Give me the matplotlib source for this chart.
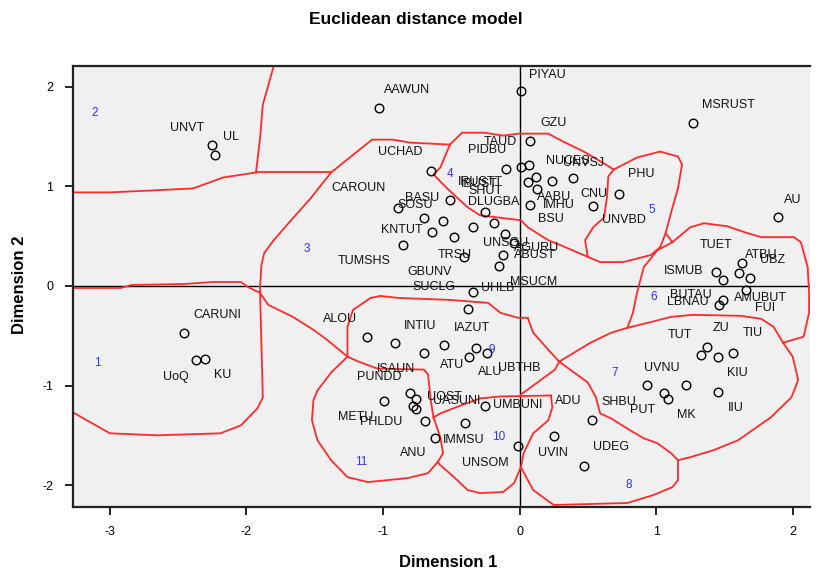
import matplotlib
matplotlib.use("Agg")
import matplotlib.pyplot as plt

plt.rcParams['font.family'] = ['Liberation Sans', 'DejaVu Sans']
plt.rcParams['axes.unicode_minus'] = False

# ---------------- data ----------------
names = ["UNVT", "UL", "AAWUN", "PIYAU", "MSRUST", "AU", "CARUNI", "UoQ", "KU",
         "GZU", "UCHAD", "PIDBU", "TAUD", "NUCES", "UNVSJ", "AABU", "IMHU", "BSU", "CNU",
         "SHUT", "UNVBD", "PHU", "IRUSTT", "CAROUN", "IBUST", "SOSU", "BASU", "DLUGBA",
         "UNSGU", "KNTUT", "TRSU", "AGURU", "TUMSHS", "ABUST", "GBUNV", "MSUCM", "SUCLG", "UHLB",
         "ISMUB", "TUET", "ATBU", "UBZ", "AMUBUT", "FUI", "BUTAU", "LBNAU",
         "ZU", "TUT", "KIU", "TIU", "UVNU", "SHBU", "PUT", "MK", "IIU",
         "ADU", "UVIN", "UDEG", "UNSOM",
         "ALOU", "INTIU", "", "IAZUT", "UBTHB", "ATU", "ALU", "",
         "METU", "PUNDD", "ISAUN", "UOST", "UASUNI", "PHLDU", "ANU", "IMMSU", "UMBUNI"]

dim1 = [-2.25, -2.23, -1.03, 0.01, 1.27, 1.89, -2.46, -2.37, -2.30,
        0.08, -0.65, -0.10, 0.01, 0.07, 0.06, 0.12, 0.13, 0.24, 0.39,
        0.08, 0.54, 0.73, -0.51, -0.89, -0.25, -0.70, -0.56, -0.19,
        -0.34, -0.64, -0.48, -0.11, -0.85, -0.04, -0.41, -0.12, -0.15, -0.34,
        1.44, 1.63, 1.61, 1.69, 1.66, 1.49, 1.49, 1.46,
        1.37, 1.33, 1.45, 1.56, 0.93, 1.06, 1.09, 1.22, 1.45,
        0.53, 0.25, 0.47, -0.01,
        -1.12, -0.91, -0.70, -0.55, -0.32, -0.37, -0.24, -0.38,
        -0.99, -0.80, -0.76, -0.78, -0.76, -0.69, -0.62, -0.40, -0.25]

dim2 = [1.42, 1.32, 1.79, 1.96, 1.64, 0.69, -0.47, -0.74, -0.73,
        1.46, 1.15, 1.17, 1.19, 1.22, 1.04, 1.09, 0.97, 1.05, 1.08,
        0.81, 0.80, 0.92, 0.86, 0.78, 0.74, 0.68, 0.65, 0.63,
        0.59, 0.54, 0.49, 0.52, 0.41, 0.43, 0.29, 0.31, 0.20, -0.06,
        0.14, 0.23, 0.13, 0.08, -0.04, 0.06, -0.14, -0.19,
        -0.61, -0.69, -0.71, -0.67, -0.99, -1.08, -1.14, -0.99, -1.07,
        -1.35, -1.51, -1.81, -1.61,
        -0.51, -0.57, -0.67, -0.59, -0.62, -0.71, -0.67, -0.23,
        -1.16, -1.08, -1.14, -1.21, -1.24, -1.36, -1.53, -1.38, -1.21]

# label placement offsets (pixels) -- styling only
label_dx = [-42, 8, 5, 8, 9, 6, 10, -33, 9,
            10, -53, -38, -37, 17, 35, 1, 6, -14, 8,
            -62, 9, 9, 8, -67, -25, -27, -38, -26,
            10, -51, -16, 9, -66, 0, -56, 7, -87, 8,
            -52, -42, 6, 10, -12, 32, -53, -52,
            6, -33, 9, 10, -3, -63, -38, -9, 10,
            -37, -16, 9, -56,
            -44, 9, 0, 9, 22, -29, -9, 0,
            -46, -53, -39, 14, 17, -65, -35, -22, 8]
label_dy = [17, 18, 18, 16, 18, 17, 18, -17, -16,
            18, 19, 19, 25, 4, 19, -20, -16, -38, -16,
            14, -14, 20, 18, 20, 28, 13, 23, 21,
            -16, 2, -18, -14, -16, -12, -15, -27, -21, 4,
            1, 18, 18, 18, -8, -28, 5, 3,
            19, 20, -16, 20, 17, -9, -11, -30, -16,
            19, -17, 19, -17,
            18, 17, 0, 17, -20, -8, -19, 0,
            -16, 16, 30, 9, 8, -1, -15, -17, 1]

region_ids = ["1", "2", "3", "4", "5", "6", "7", "8", "9", "10", "11"]
region_x = [-3.09, -3.11, -1.56, -0.51, 0.97, 0.98, 0.70, 0.80, -0.20, -0.15, -1.16]
region_y = [-0.77, 1.74, 0.37, 1.12, 0.76, -0.11, -0.87, -2.00, -0.64, -1.52, -1.77]

# territory boundaries (traced, in dimension units)
boundaries = [
    [(-1.80, 2.21), (-1.88, 1.82), (-1.90, 1.49), (-1.93, 1.14)],
    [(-1.93, 1.14), (-2.17, 1.09), (-2.39, 0.98), (-2.68, 0.96), (-3.00, 0.94), (-3.27, 0.94)],
    [(-1.93, 1.14), (-1.38, 1.14)],
    [(-1.38, 1.14), (-1.08, 1.47), (-0.93, 1.47), (-0.80, 1.44), (-0.51, 1.42)],
    [(-1.38, 1.14), (-1.53, 0.88), (-1.66, 0.68), (-1.80, 0.46), (-1.87, 0.33), (-1.89, 0.21),
     (-1.90, -0.01), (-1.90, -0.07)],
    [(-3.27, -0.02), (-2.92, -0.02), (-2.84, 0.01), (-2.45, 0.02), (-2.25, 0.04), (-2.04, 0.04),
     (-1.99, -0.01), (-1.90, -0.07)],
    [(-1.90, -0.07), (-1.88, -1.12), (-1.92, -1.23), (-2.04, -1.40), (-2.19, -1.48), (-2.65, -1.50),
     (-3.00, -1.48), (-3.27, -1.27)],
    [(-1.90, -0.07), (-1.84, -0.19), (-1.66, -0.31), (-1.51, -0.44), (-1.41, -0.54), (-1.26, -0.71)],
    [(-0.51, 1.42), (-0.42, 1.54), (-0.26, 1.54), (-0.12, 1.51), (-0.01, 1.53), (0.21, 1.53),
     (0.32, 1.45), (0.47, 1.35), (0.57, 1.27), (0.69, 1.17)],
    [(-0.51, 1.42), (-0.58, 1.19), (-0.63, 1.12), (-0.53, 0.98), (-0.38, 0.79), (-0.29, 0.71),
     (0.01, 0.66), (0.06, 0.59), (0.21, 0.46), (0.30, 0.41), (0.47, 0.31), (0.59, 0.24),
     (0.76, 0.24), (0.96, 0.31), (1.03, 0.39), (1.07, 0.53), (1.11, 0.74), (1.16, 0.98),
     (1.19, 1.22), (1.16, 1.30), (1.03, 1.35), (0.86, 1.29), (0.69, 1.17)],
    [(0.69, 1.17), (0.65, 1.10), (0.64, 0.89), (0.62, 0.69), (0.54, 0.59), (0.48, 0.46), (0.50, 0.29)],
    [(1.07, 0.53), (1.12, 0.44), (1.01, 0.36), (0.91, 0.19), (0.86, -0.07), (0.83, -0.27), (0.79, -0.42)],
    [(1.12, 0.44), (1.25, 0.59), (1.35, 0.63), (1.52, 0.60), (1.67, 0.53), (1.77, 0.49), (2.01, 0.49),
     (2.06, 0.44), (2.11, 0.19), (2.12, -0.07), (2.12, -0.27), (2.08, -0.51), (1.93, -0.57)],
    [(0.79, -0.42), (0.94, -0.37), (1.11, -0.31), (1.27, -0.29), (1.62, -0.30), (1.77, -0.33),
     (1.86, -0.41), (1.93, -0.57)],
    [(1.93, -0.57), (2.00, -0.71), (2.04, -0.94), (2.02, -1.02), (1.99, -1.12), (1.84, -1.32),
     (1.60, -1.55), (1.42, -1.65), (1.25, -1.72), (1.16, -1.75)],
    [(0.79, -0.42), (0.67, -0.47), (0.52, -0.57), (0.29, -0.76)],
    [(0.06, -0.32), (0.10, -0.47), (0.21, -0.64), (0.29, -0.76)],
    [(0.29, -0.76), (0.37, -0.84), (0.50, -0.97), (0.56, -1.12), (0.59, -1.28), (0.67, -1.33),
     (0.81, -1.45), (0.91, -1.53), (1.01, -1.58), (1.11, -1.68), (1.16, -1.75)],
    [(0.01, -1.82), (0.10, -2.05), (0.25, -2.20), (0.79, -2.18), (0.98, -2.10), (1.12, -2.02),
     (1.16, -1.95), (1.16, -1.75)],
    [(-1.26, -0.71), (-1.26, -0.41), (-1.22, -0.24), (-1.09, -0.12), (-1.02, -0.10), (-0.89, -0.12),
     (-0.70, -0.13), (-0.51, -0.14), (-0.23, -0.17), (-0.14, -0.27), (-0.01, -0.32), (0.06, -0.32)],
    [(-1.26, -0.71), (-1.18, -0.76), (-1.04, -0.83), (-0.70, -0.84), (-0.67, -0.89), (-0.65, -1.15),
     (-0.63, -1.32)],
    [(-1.26, -0.71), (-1.38, -0.87), (-1.48, -1.05), (-1.51, -1.15), (-1.52, -1.35), (-1.48, -1.55),
     (-1.38, -1.75), (-1.26, -1.92), (-1.11, -1.97), (-0.82, -1.93), (-0.67, -1.88), (-0.60, -1.77)],
    [(-0.63, -1.32), (-0.58, -1.52), (-0.56, -1.68), (-0.60, -1.77)],
    [(-0.63, -1.32), (-0.58, -1.28), (-0.43, -1.20), (-0.29, -1.13), (-0.14, -1.11), (0.23, -1.10)],
    [(0.23, -1.10), (0.24, -1.22), (0.21, -1.35), (0.10, -1.48), (0.03, -1.68), (0.01, -1.82)],
    [(0.01, -1.82), (-0.04, -1.98), (-0.12, -2.07), (-0.29, -2.08), (-0.38, -2.05), (-0.48, -1.92),
     (-0.58, -1.80), (-0.60, -1.77)],
    [(0.29, -0.76), (0.26, -0.84), (0.15, -0.95), (0.01, -1.09)],
]

x_ticks = [-3, -2, -1, 0, 1, 2]
y_ticks = [-2, -1, 0, 1, 2]

# ---------------- figure ----------------
fig = plt.figure(figsize=(8.23, 5.75), dpi=100)
ax = fig.add_axes([0.0887, 0.1183, 0.896, 0.767])
ax.set_facecolor('#f0f0f0')
ax.set_xlim(-3.27, 2.13)
ax.set_ylim(-2.22, 2.21)

ax.axhline(0, color='black', lw=1.0, zorder=1)
ax.axvline(0, color='black', lw=1.0, zorder=1)

for line in boundaries:
    xs = [p[0] for p in line]
    ys = [p[1] for p in line]
    ax.plot(xs, ys, color='#ff2a2a', lw=1.3, zorder=2, solid_joinstyle='round')

ax.plot(dim1, dim2, linestyle='none', marker='o', markersize=6.2, markerfacecolor='none',
        markeredgecolor='black', markeredgewidth=1.0, zorder=3)

for n, x, y, dx, dy in zip(names, dim1, dim2, label_dx, label_dy):
    if n:
        ax.annotate(n, (x, y), xytext=(dx, dy), textcoords='offset pixels',
                    ha='left', va='center', fontsize=9, color='#111111', zorder=4)

for t, x, y in zip(region_ids, region_x, region_y):
    ax.text(x, y, t, color='#3030ff', fontsize=8.5, ha='center', va='center', zorder=4)

ax.set_xticks(x_ticks)
ax.set_yticks(y_ticks)
ax.set_xticklabels([str(v) for v in x_ticks])
ax.set_yticklabels([str(v) for v in y_ticks])
ax.tick_params(direction='out', length=6, width=1.2, labelsize=9, pad=8)

for side in ['left', 'bottom', 'top']:
    ax.spines[side].set_linewidth(1.6)
    ax.spines[side].set_color('#222222')
ax.spines['right'].set_visible(False)

fig.text(0.505, 0.966, 'Euclidean distance model', ha='center', va='center',
         fontsize=12.5, fontweight='bold')
fig.text(0.545, 0.021, 'Dimension 1', ha='center', va='center', fontsize=12, fontweight='bold')
fig.text(0.024, 0.505, 'Dimension 2', ha='center', va='center', fontsize=12,
         fontweight='bold', rotation=90)

fig.savefig('out.png', dpi=100)
